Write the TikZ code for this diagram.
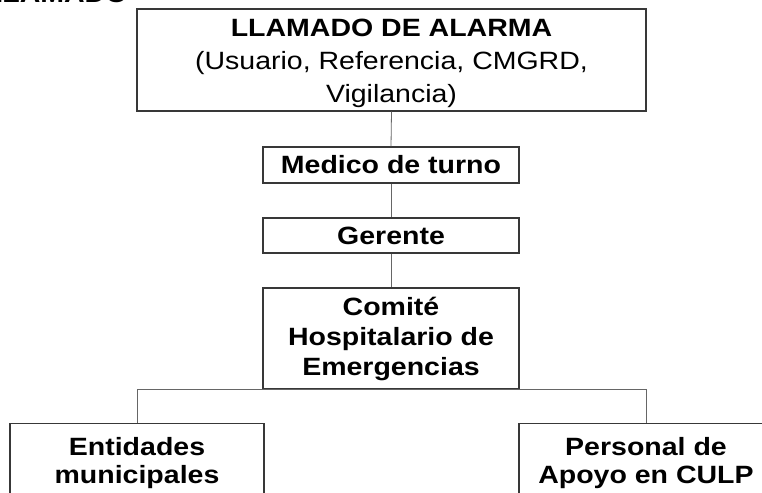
\documentclass[tikz,border=0pt]{standalone}
\usepackage{fontspec}
\setmainfont{Liberation Sans}[FakeStretch=1.14]
\usetikzlibrary{positioning}

\begin{document}
\begin{tikzpicture}[x=1pt,y=-1pt,
 every node/.style={font=\fontsize{25}{30}\selectfont,align=center,text=black},
 box/.style={draw=black!78,line width=1.1pt,minimum width=256pt,inner sep=0pt},
 cutbox/.style={box,minimum width=254pt,anchor=north,inner ysep=14pt,font=\fontsize{25}{28}\selectfont\bfseries},
 link/.style={draw=black!60,line width=0.8pt}]
\useasboundingbox (0,0) rectangle (762,492);
\node[anchor=base east,font=\fontsize{25}{30}\selectfont\bfseries] (titulo) at (131,2.5) {LLAMADO};
\node[box,minimum width=509pt,minimum height=102pt,font=\fontsize{25}{33}\selectfont] (alarma) at (391.5,60) {\rule{0pt}{25pt}\textbf{LLAMADO DE ALARMA}\\(Usuario, Referencia, CMGRD,\\Vigilancia)};
\node[box,minimum height=36pt,font=\fontsize{25}{30}\selectfont\bfseries] (medico) at (391,165) {Medico de turno};
\node[box,minimum height=35pt,font=\fontsize{25}{30}\selectfont\bfseries] (gerente) at (391,235.5) {Gerente};
\node[box,minimum height=101pt,font=\fontsize{25}{30}\selectfont\bfseries] (comite) at (391,338.5) {Comité\\Hospitalario de\\Emergencias};
\node[cutbox] (entidades) at (137,423) {Entidades\\municipales};
\node[cutbox] (personal) at (646,423) {Personal de\\Apoyo en CULP};
\draw[link] (alarma.south) -- (medico.north);
\draw[link] (medico.south) -- (gerente.north);
\draw[link] (gerente.south) -- (comite.north);
\draw[link] (entidades.north) |- (comite.south) -| (personal.north);
\end{tikzpicture}
\end{document}
